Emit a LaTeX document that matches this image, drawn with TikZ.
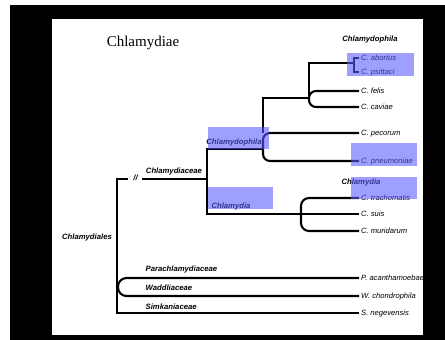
\documentclass[tikz,border=0pt]{standalone}
\usepackage{fontspec}
\setmainfont{Liberation Serif}
\newfontfamily\treefont{Liberation Sans}
\usetikzlibrary{positioning}

\begin{document}
\begin{tikzpicture}[x=1pt, y=-1pt]
    % Define styles
    \tikzstyle{branch} = [line width=2.1pt]
    \tikzstyle{curved} = [branch, rounded corners=7pt]
    \tikzstyle{taxon} = [font=\treefont\bfseries\itshape\fontsize{7.7}{8}\selectfont, inner sep=0pt]
    \tikzstyle{leaf} = [anchor=west, font=\treefont\itshape\fontsize{7.6}{8}\selectfont, inner xsep=2pt, inner ysep=0pt, text height=5.4pt, text depth=0pt]
    \tikzstyle{hilite} = [fill={rgb,255:red,90;green,90;blue,255}, fill opacity=0.58]

    % Frame
    \useasboundingbox (0,0) rectangle (445,340);
    \fill[black] (10,5) rectangle (445,340);
    \fill[white] (52,19) rectangle (423,335);

    % Title
    \node[font=\fontsize{15}{17}\selectfont] (title) at (143,43) {Chlamydiae};
    \node[taxon] (philahead) at (370,40) {Chlamydophila};

    % Leaves
    \node[leaf] (abortus) at (359,58) {C. abortus};
    \node[leaf] (psittaci) at (359,72) {C. psittaci};
    \node[leaf] (felis) at (359,91) {C. felis};
    \node[leaf] (caviae) at (359,107) {C. caviae};
    \node[leaf] (pecorum) at (359,133) {C. pecorum};
    \node[leaf] (pneumoniae) at (359,161) {C. pneumoniae};
    \node[leaf] (trachomatis) at (359,198) {C. trachomatis};
    \node[leaf] (suis) at (359,214) {C. suis};
    \node[leaf] (muridarum) at (359,231) {C. muridarum};
    \node[leaf] (acanth) at (359,278) {P. acanthamoebae};
    \node[leaf] (chondro) at (359,296) {W. chondrophila};
    \node[leaf] (negev) at (359,313) {S. negevensis};

    % Clade labels
    \node[taxon] (famlabel) at (174,172) {Chlamydiaceae};
    \node[taxon] (philalabel) at (234,143) {Chlamydophila};
    \node[taxon] (dialabel) at (231,207) {Chlamydia};
    \node[taxon] (diahead) at (361,183) {Chlamydia};
    \node[taxon] (orderlabel) at (87,238) {Chlamydiales};
    \node[taxon, anchor=west] (paralabel) at (145.5,270) {Parachlamydiaceae};
    \node[taxon, anchor=west] (waddlabel) at (145.5,288) {Waddliaceae};
    \node[taxon, anchor=west] (simklabel) at (145.5,307) {Simkaniaceae};
    \node[taxon] (brk) at (135.5,178) {//};

    % Junctions
    \coordinate (rootT) at (117,179);
    \coordinate (gapL) at (128,179);
    \coordinate (gapR) at (142,179);
    \coordinate (famJ) at (207,179);
    \coordinate (philaJ) at (263,149);
    \coordinate (upperJ) at (309,98);

    % Order
    \draw[branch] (gapL) -- (rootT) |- (negev.west);
    \draw[branch, rounded corners=8.5pt] (acanth.west) -- (118,278) -- (118,296) -- (chondro.west);
    \draw[branch] (gapR) -- (famJ);

    % Chlamydiaceae
    \draw[branch] (philaJ) -- (207,149) |- (suis.west);
    \draw[branch, rounded corners=8pt] (trachomatis.west) -- (301,198) -- (301,231) -- (muridarum.west);

    % Chlamydophila
    \draw[branch] (upperJ) -- (263,98) -- (263,133);
    \draw[curved] (pecorum.west) -- (263,133) -- (263,161) -- (pneumoniae.west);
    \draw[branch] (upperJ) -- (309,63) -- (354,63);
    \draw[curved] (felis.west) -- (309,91) -- (309,107) -- (caviae.west);
    \draw[branch] (abortus.west) -- (354,58) -- (354,72) -- (psittaci.west);

    % Highlights
    \fill[hilite] (347,53) rectangle (414,76);
    \fill[hilite] (208,127) rectangle (269,149);
    \fill[hilite] (351,143) rectangle (417,166);
    \fill[hilite] (208,187) rectangle (273,209);
    \fill[hilite] (351,177) rectangle (417,199);
\end{tikzpicture}
\end{document}
